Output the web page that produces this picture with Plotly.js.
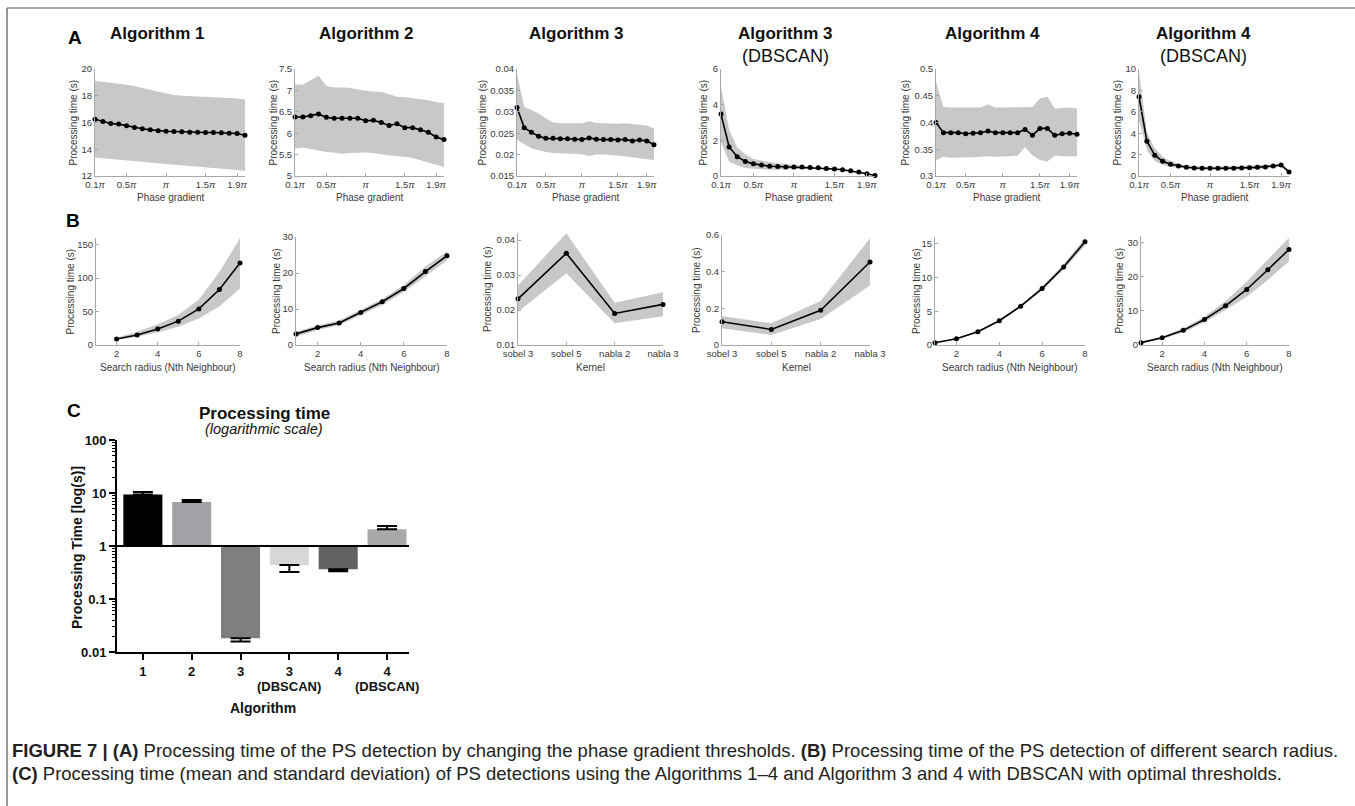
<!DOCTYPE html>
<html>
<head>
<meta charset="utf-8">
<script src="https://cdn.plot.ly/plotly-3.0.1.min.js"></script>
<style>html,body{margin:0;padding:0;background:#fff;}#chart{width:1355px;height:806px;}</style>
</head>
<body>
<div id="chart"></div>
<script>
// ---------------- DATA ----------------
const phase = [0.1,0.2,0.3,0.4,0.5,0.6,0.7,0.8,0.9,1.0,1.1,1.2,1.3,1.4,1.5,1.6,1.7,1.8,1.9,2.0];
const phaseTickVals = [0.1,0.5,1,1.5,1.9];
const phaseTickText = ['0.1<i>π</i>','0.5<i>π</i>','<i>π</i>','1.5<i>π</i>','1.9<i>π</i>'];

const a1Mean  = [16.25,16.08,15.93,15.88,15.75,15.63,15.53,15.45,15.38,15.35,15.33,15.30,15.28,15.28,15.25,15.25,15.23,15.20,15.18,15.05];
const a1Upper = [19.12,19.05,19.0,18.93,18.82,18.72,18.6,18.45,18.3,18.15,18.05,18.0,17.95,17.95,17.93,17.9,17.88,17.85,17.8,17.72];
const a1Lower = [13.38,13.32,13.27,13.22,13.18,13.12,13.05,13.0,12.95,12.9,12.85,12.8,12.75,12.72,12.68,12.65,12.6,12.55,12.5,12.4];

const a2Mean  = [6.38,6.38,6.41,6.45,6.37,6.35,6.35,6.35,6.35,6.29,6.30,6.25,6.18,6.22,6.13,6.13,6.08,6.02,5.91,5.85];
const a2Upper = [7.14,7.13,7.24,7.34,7.10,7.07,7.07,7.06,7.02,6.99,6.97,6.97,6.91,6.85,6.84,6.82,6.80,6.77,6.73,6.70];
const a2Lower = [5.64,5.66,5.63,5.59,5.56,5.55,5.52,5.54,5.55,5.55,5.54,5.51,5.48,5.47,5.45,5.42,5.37,5.31,5.26,5.21];

const a3Mean  = [0.0310,0.0263,0.0252,0.0243,0.0238,0.0238,0.0237,0.0237,0.0236,0.0235,0.0239,0.0236,0.0235,0.0235,0.0234,0.0235,0.0232,0.0234,0.0232,0.0223];
const a3Upper = [0.0388,0.0312,0.0304,0.0296,0.0285,0.0275,0.0273,0.0273,0.0273,0.0273,0.0278,0.0274,0.0273,0.0272,0.0272,0.0273,0.0271,0.0270,0.0268,0.0261];
const a3Lower = [0.0234,0.0225,0.0215,0.0210,0.0206,0.0204,0.0203,0.0202,0.0202,0.0201,0.0197,0.0200,0.0200,0.0199,0.0198,0.0196,0.0194,0.0192,0.0190,0.0187];

const a4Mean  = [3.47,1.63,1.08,0.81,0.68,0.61,0.55,0.53,0.51,0.50,0.50,0.48,0.46,0.42,0.39,0.35,0.29,0.22,0.13,0.03];
const a4Upper = [5.0,2.6,1.6,1.2,0.95,0.85,0.78,0.72,0.68,0.62,0.6,0.56,0.52,0.47,0.43,0.38,0.32,0.25,0.15,0.05];
const a4Lower = [1.9,0.8,0.6,0.45,0.4,0.38,0.35,0.35,0.36,0.38,0.4,0.4,0.4,0.37,0.35,0.32,0.26,0.19,0.11,0.01];

const a5Mean  = [0.400,0.381,0.381,0.381,0.379,0.380,0.381,0.384,0.381,0.381,0.381,0.381,0.387,0.376,0.389,0.389,0.376,0.379,0.380,0.378];
const a5Upper = [0.476,0.429,0.428,0.428,0.427,0.428,0.428,0.434,0.428,0.428,0.428,0.429,0.429,0.429,0.445,0.448,0.426,0.427,0.428,0.426];
const a5Lower = [0.329,0.336,0.334,0.334,0.335,0.335,0.336,0.337,0.336,0.336,0.337,0.338,0.354,0.339,0.330,0.327,0.338,0.337,0.337,0.337];

const a6Mean  = [7.41,3.25,1.94,1.38,1.09,0.94,0.81,0.75,0.72,0.72,0.72,0.72,0.72,0.75,0.78,0.81,0.84,0.94,1.03,0.38];
const a6Upper = [9.75,4.1,2.6,1.8,1.4,1.15,1.0,0.92,0.88,0.87,0.87,0.88,0.9,0.95,1.0,1.02,1.03,1.1,1.2,0.5];
const a6Lower = [5.2,2.4,1.4,1.05,0.85,0.75,0.65,0.6,0.58,0.58,0.58,0.58,0.58,0.6,0.62,0.65,0.68,0.78,0.87,0.28];

const radius1 = [2,3,4,5,6,7,8];
const radius  = [1,2,3,4,5,6,7,8];
const kernels = ['sobel 3','sobel 5','nabla 2','nabla 3'];

const b1Mean  = [8.9,14.9,23.8,35.7,54,83,122.6];
const b1Upper = [10.9,19.9,31,44.7,68,109,160];
const b1Lower = [7.4,12.4,18.9,27.3,39.7,58,84.4];

const b2Mean  = [3.07,4.83,6.13,9.0,12.0,15.7,20.4,24.8];
const b2Upper = [3.7,5.4,6.8,9.75,12.8,16.7,21.8,26];
const b2Lower = [2.3,4.2,5.5,8.2,11.1,14.7,19,23.5];

const b3Mean  = [0.0232,0.0362,0.0190,0.0216];
const b3Upper = [0.0270,0.0419,0.0221,0.0251];
const b3Lower = [0.0195,0.0305,0.0162,0.0182];

const b4Mean  = [0.127,0.085,0.189,0.453];
const b4Upper = [0.158,0.118,0.240,0.582];
const b4Lower = [0.091,0.055,0.142,0.324];

const b5Mean  = [0.34,0.93,1.97,3.59,5.75,8.36,11.55,15.3];
const b5Upper = [0.4,1.02,2.1,3.75,5.95,8.65,11.95,15.85];
const b5Lower = [0.28,0.85,1.85,3.45,5.55,8.1,11.15,14.75];

const b6Mean  = [0.68,2.15,4.3,7.5,11.5,16.3,22.1,28.05];
const b6Upper = [1.0,2.45,4.9,8.3,12.9,18.6,25.1,31.5];
const b6Lower = [0.5,1.85,3.7,6.65,10.3,14.2,19.1,24.6];

const algLabels = ['1','2','3','3 (DBSCAN)','4','4 (DBSCAN)'];
const algMean   = [9.4,6.77,0.0181,0.438,0.363,2.06];
const algSD     = [1.0,0.61,0.0024,0.115,0.030,0.32];
const algColors = ['#000000','#a2a2a6','#7f7f7f','#d7d7d7','#626262','#a9a9a9'];

// ---------------- LAYOUT HELPERS ----------------
const W = 1355, H = 806;
const FONT = 'Liberation Sans, Arial, Helvetica, sans-serif';
const AX_COL = '#a8a8a8', TXT_COL = '#3a3a3a';

const panels = [
  {x:phase, m:a1Mean, u:a1Upper, l:a1Lower, box:[95,245,69,176], xr:[0.1,2.0], yr:[12,20], t0:12, dt:2, xtitle:'Phase gradient', yoff:22, phase:true},
  {x:phase, m:a2Mean, u:a2Upper, l:a2Lower, box:[295,444,69,176], xr:[0.1,2.0], yr:[5,7.5], t0:5, dt:0.5, xtitle:'Phase gradient', yoff:22, phase:true},
  {x:phase, m:a3Mean, u:a3Upper, l:a3Lower, box:[517,654,69,176], xr:[0.1,2.0], yr:[0.015,0.04], t0:0.015, dt:0.005, xtitle:'Phase gradient', yoff:35, phase:true},
  {x:phase, m:a4Mean, u:a4Upper, l:a4Lower, box:[721,875,69,176], xr:[0.1,2.0], yr:[0,6], t0:0, dt:2, xtitle:'Phase gradient', yoff:18, phase:true},
  {x:phase, m:a5Mean, u:a5Upper, l:a5Lower, box:[936,1077,69,176], xr:[0.1,2.0], yr:[0.3,0.5], t0:0.3, dt:0.05, xtitle:'Phase gradient', yoff:31, phase:true},
  {x:phase, m:a6Mean, u:a6Upper, l:a6Lower, box:[1139,1289,69,176], xr:[0.1,2.0], yr:[0,10], t0:0, dt:2, xtitle:'Phase gradient', yoff:22, phase:true},
  {x:radius1, m:b1Mean, u:b1Upper, l:b1Lower, box:[96,240,238,345], xr:[1,8], yr:[0,160], t0:0, dt:50, xtitle:'Search radius (Nth Neighbour)', yoff:26},
  {x:radius, m:b2Mean, u:b2Upper, l:b2Lower, box:[296,447,237,345], xr:[1,8], yr:[0,30], t0:0, dt:10, xtitle:'Search radius (Nth Neighbour)', yoff:20},
  {x:kernels, m:b3Mean, u:b3Upper, l:b3Lower, box:[518,663,233,345], xr:[0,3], yr:[0.01,0.042], t0:0.01, dt:0.01, xtitle:'Kernel', yoff:31, cat:true},
  {x:kernels, m:b4Mean, u:b4Upper, l:b4Lower, box:[722,870,235,345], xr:[0,3], yr:[0,0.6], t0:0, dt:0.2, xtitle:'Kernel', yoff:25, cat:true},
  {x:radius, m:b5Mean, u:b5Upper, l:b5Lower, box:[935,1085,237,345], xr:[1,8], yr:[0,16], t0:0, dt:5, xtitle:'Search radius (Nth Neighbour)', yoff:19},
  {x:radius, m:b6Mean, u:b6Upper, l:b6Lower, box:[1141,1289,236,345], xr:[1,8], yr:[0,32], t0:0, dt:10, xtitle:'Search radius (Nth Neighbour)', yoff:22}
];

const data = [];
const layout = {
  width: W, height: H,
  margin: {l:0, r:0, t:0, b:0},
  paper_bgcolor: '#ffffff', plot_bgcolor: '#ffffff',
  showlegend: false,
  font: {family: FONT, color: TXT_COL},
  annotations: [], shapes: []
};

function ann(text, xpx, ypx, opts) {
  layout.annotations.push(Object.assign({
    text: text, xref:'paper', yref:'paper', x: xpx/W, y: 1 - ypx/H,
    xanchor:'center', yanchor:'middle', showarrow:false,
    font:{family:FONT, size:10, color:TXT_COL}
  }, opts || {}));
}

const tickFont = {family:FONT, size:9.5, color:TXT_COL};

panels.forEach((p, i) => {
  const n = i + 1;
  const xa = 'x' + n, ya = 'y' + n;
  const [l, r, t, b] = p.box;
  const xaxis = {
    domain:[l/W, r/W], anchor: ya, range: p.xr,
    showline:true, linecolor:AX_COL, linewidth:1, mirror:false,
    ticks:'inside', ticklen:3, tickcolor:AX_COL, tickwidth:1,
    showgrid:false, zeroline:false, fixedrange:true,
    tickfont:tickFont
  };
  if (p.phase) { xaxis.tickmode='array'; xaxis.tickvals=phaseTickVals; xaxis.ticktext=phaseTickText; }
  else if (p.cat) { xaxis.type='category'; }
  else { xaxis.tickmode='linear'; xaxis.tick0=0; xaxis.dtick=2; }
  const yaxis = {
    domain:[1 - b/H, 1 - t/H], anchor: xa, range: p.yr,
    showline:true, linecolor:AX_COL, linewidth:1,
    ticks:'inside', ticklen:3, tickcolor:AX_COL, tickwidth:1,
    tickmode:'linear', tick0:p.t0, dtick:p.dt,
    showgrid:false, zeroline:false, fixedrange:true,
    tickfont:tickFont
  };
  layout['xaxis' + (n===1?'':n)] = xaxis;
  layout['yaxis' + (n===1?'':n)] = yaxis;

  data.push({type:'scatter', mode:'lines', x:p.x, y:p.l, xaxis:xa, yaxis:ya,
             line:{width:0, color:'#c8c8c8'}, hoverinfo:'skip'});
  data.push({type:'scatter', mode:'lines', x:p.x, y:p.u, xaxis:xa, yaxis:ya, fill:'tonexty',
             fillcolor:'#c8c8c8', line:{width:0, color:'#c8c8c8'}, hoverinfo:'skip'});
  data.push({type:'scatter', mode:'lines+markers', x:p.x, y:p.m, xaxis:xa, yaxis:ya,
             line:{width:1.6, color:'#000000'}, marker:{size:5, color:'#000000'}, cliponaxis:false});

  ann('Processing time (s)', l - p.yoff, (t + b)/2, {textangle:-90});
  ann(p.xtitle, (l + r)/2, i < 6 ? 197 : 367, {font:{family:FONT, size:10, color:TXT_COL}});
});

// Row A titles
const tFontB = {family:FONT, size:17, color:'#111111', weight:'bold'};
const tFontR = {family:FONT, size:18, color:'#111111'};
ann('Algorithm 1', 157, 34, {font:tFontB});
ann('Algorithm 2', 366, 34, {font:tFontB});
ann('Algorithm 3', 576, 34, {font:tFontB});
ann('Algorithm 3', 785, 34, {font:tFontB});
ann('(DBSCAN)', 785, 56, {font:tFontR});
ann('Algorithm 4', 993, 34, {font:tFontB});
ann('Algorithm 4', 1203, 34, {font:tFontB});
ann('(DBSCAN)', 1203, 56, {font:tFontR});

// Panel letters
const letterFont = {family:FONT, size:19, color:'#000000', weight:'bold'};
ann('A', 75, 37, {font:letterFont});
ann('B', 73, 221, {font:letterFont});
ann('C', 74, 410, {font:letterFont});

// ---------------- PANEL C ----------------
const cl = 117, cr = 409, ct = 440, cb = 652;
const cRange = [-2, 2];
const baseline = 1;
const cTickFont = {family:FONT, size:13, color:'#111', weight:'bold'};
layout.xaxis13 = {
  domain:[cl/W, cr/W], anchor:'y13', type:'category', range:[-0.53, 5.45],
  tickmode:'array', tickvals:algLabels, ticktext:algLabels.map(s => s.split(' ')[0]),
  showline:true, linecolor:'#000', linewidth:2,
  ticks:'outside', ticklen:6, tickwidth:2, tickcolor:'#000',
  showgrid:false, zeroline:false, fixedrange:true,
  tickfont:cTickFont
};
layout.yaxis13 = {
  domain:[1 - cb/H, 1 - ct/H], anchor:'x13', type:'log', range:cRange,
  tickmode:'linear', dtick:1,
  showline:true, linecolor:'#000', linewidth:2,
  ticks:'outside', ticklen:6, tickwidth:2, tickcolor:'#000',
  minor:{ticks:'outside', ticklen:3, tickwidth:1, tickcolor:'#000', dtick:'D1'},
  showgrid:false, zeroline:false, fixedrange:true,
  tickfont:cTickFont
};
// second line of the category labels
algLabels.forEach(s => {
  const parts = s.split(' ');
  if (parts.length > 1) {
    layout.annotations.push({text:parts.slice(1).join(' '), xref:'x13', yref:'paper', x:s, y:1 - 686/H,
      xanchor:'center', yanchor:'middle', showarrow:false, font:cTickFont});
  }
});
data.push({
  type:'bar', x:algLabels, y:algMean.map(v => v - baseline), base:baseline,
  xaxis:'x13', yaxis:'y13', width:0.8,
  marker:{color:algColors, line:{width:0}}, hoverinfo:'skip'
});
data.push({
  type:'scatter', mode:'markers', x:algLabels, y:algMean, xaxis:'x13', yaxis:'y13',
  marker:{size:1, color:'rgba(0,0,0,0)'},
  error_y:{type:'data', symmetric:false,
           array: algMean.map((v,k) => v > baseline ? algSD[k] : 0),
           arrayminus: algMean.map((v,k) => v < baseline ? algSD[k] : 0),
           color:'#000', thickness:2, width:10},
  hoverinfo:'skip', cliponaxis:false
});
layout.shapes.push({
  type:'line', xref:'x13 domain', yref:'y13 domain', x0:0, x1:1,
  y0:(Math.log10(baseline) - cRange[0])/(cRange[1]-cRange[0]),
  y1:(Math.log10(baseline) - cRange[0])/(cRange[1]-cRange[0]),
  line:{color:'#000', width:2}
});

ann('Processing time', 264, 414, {font:{family:FONT, size:17, color:'#111', weight:'bold'}});
ann('<i>(logarithmic scale)</i>', 264, 429, {font:{family:FONT, size:14.5, color:'#111'}});
ann('Processing Time [log(s)]', 77, 548, {textangle:-90, font:{family:FONT, size:14, color:'#111', weight:'bold'}});
ann('Algorithm', 263, 708, {font:{family:FONT, size:14, color:'#111', weight:'bold'}});

// ---------------- FRAME & CAPTION ----------------
layout.shapes.push({type:'line', xref:'paper', yref:'paper', x0:7/W, x1:1, y0:1-8/H, y1:1-8/H, line:{color:'#555', width:1.2}});
layout.shapes.push({type:'line', xref:'paper', yref:'paper', x0:7/W, x1:7/W, y0:1-8/H, y1:0, line:{color:'#555', width:1.2}});

const capFont = {family:FONT, size:18.5, color:'#222'};
ann('<b>FIGURE 7 | (A)</b> Processing time of the PS detection by changing the phase gradient thresholds. <b>(B)</b> Processing time of the PS detection of different search radius.',
    10, 750, {xanchor:'left', font:capFont});
ann('<b>(C)</b> Processing time (mean and standard deviation) of PS detections using the Algorithms 1–4 and Algorithm 3 and 4 with DBSCAN with optimal thresholds.',
    10, 773, {xanchor:'left', font:capFont});

Plotly.newPlot('chart', data, layout, {staticPlot:true, displayModeBar:false});
</script>
</body>
</html>
